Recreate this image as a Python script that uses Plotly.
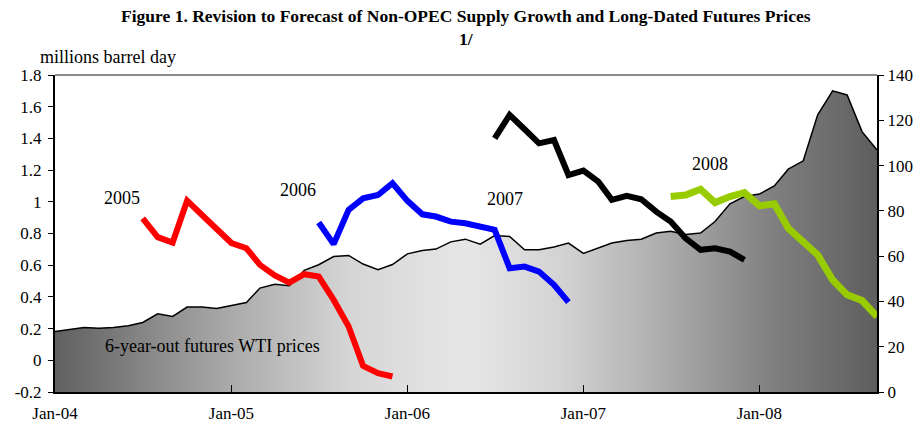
import pandas as pd
import plotly.graph_objects as go

months = pd.date_range("2004-01-01", "2008-09-01", freq="MS")

# 6-year-out futures WTI prices (right axis, $/bbl), Jan-04 .. Sep-08
wti = [26.7, 27.8, 28.5, 28.1, 28.5, 29.3, 30.7, 34.5, 33.4, 37.5, 37.5, 36.9,
       38.2, 39.5, 45.9, 47.6, 46.9, 53.7, 56.2, 59.8, 60.3, 56.5, 54.0, 56.3,
       61.0, 62.5, 63.1, 66.3, 67.5, 65.3, 69.1, 68.7, 62.8, 62.8, 64.0, 65.8,
       61.2, 63.5, 65.8, 66.9, 67.5, 70.2, 71.0, 69.6, 70.2, 75.3, 83.1, 86.3,
       87.4, 91.0, 98.4, 102.1, 122.4, 133.0, 131.2, 115.0, 106.9]

# Forecast vintages of non-OPEC supply growth (left axis, mb/d)
f2005 = [0.896, 0.777, 0.743, 1.007, 0.917, 0.827, 0.74, 0.707, 0.602, 0.535,
         0.49, 0.543, 0.528, 0.381, 0.213, -0.035, -0.081, -0.102]      # Jul-04 .. Dec-05
f2006 = [0.869, 0.733, 0.949, 1.022, 1.043, 1.117, 1.006, 0.921, 0.907, 0.875,
         0.865, 0.844, 0.823, 0.581, 0.591, 0.56, 0.476, 0.367]         # Jul-05 .. Dec-06
f2007 = [1.40, 1.548, 1.458, 1.369, 1.39, 1.169, 1.197, 1.127, 1.012, 1.037,
         1.016, 0.938, 0.875, 0.77, 0.697, 0.707, 0.686, 0.634]         # Jul-06 .. Dec-07
f2008 = [1.033, 1.043, 1.079, 0.995, 1.033, 1.058, 0.974, 0.987, 0.833, 0.749,
         0.665, 0.507, 0.413, 0.377, 0.276]                             # Jul-07 .. Sep-08

left_ticks = [-0.2, 0, 0.2, 0.4, 0.6, 0.8, 1, 1.2, 1.4, 1.6, 1.8]
left_text = ["-0.2", "0", "0.2", "0.4", "0.6", "0.8", "1", "1.2", "1.4", "1.6", "1.8"]
x_ticks = ["2004-01-01", "2005-01-01", "2006-01-01", "2007-01-01", "2008-01-01"]
x_text = ["Jan-04", "Jan-05", "Jan-06", "Jan-07", "Jan-08"]

FONT = "Liberation Serif, Times New Roman, serif"

fig = go.Figure()
# area on the base axis (drawn underneath), right side
fig.add_trace(go.Scatter(
    x=months, y=wti, yaxis="y", mode="lines",
    line=dict(color="black", width=1.5),
    fill="tozeroy",
    fillgradient=dict(type="horizontal", colorscale=[
        [0.0, "#606060"], [0.2, "#a6a6a6"], [0.36, "#d6d6d6"], [0.5, "#e6e6e6"],
        [0.62, "#d2d2d2"], [0.76, "#a6a6a6"], [0.88, "#7e7e7e"], [1.0, "#5e5e5e"]]),
    showlegend=False, hoverinfo="skip"))

series = [(f2005, 6, "#ff0000", 6), (f2006, 18, "#0000ff", 6),
          (f2007, 30, "#000000", 6), (f2008, 42, "#99cc00", 7)]
for vals, start, col, w in series:
    fig.add_trace(go.Scatter(
        x=months[start:start + len(vals)], y=vals, yaxis="y2", mode="lines",
        line=dict(color=col, width=w), showlegend=False))

ann = [("2005", "2004-05-19", 1.024), ("2006", "2005-05-19", 1.075),
       ("2007", "2006-07-23", 1.018), ("2008", "2007-09-20", 1.239),
       ("6-year-out futures WTI prices", "2004-11-22", 0.091)]
for t, xx, yy in ann:
    fig.add_annotation(x=xx, y=yy, xref="x", yref="y2", text=t, showarrow=False,
                       font=dict(family=FONT, size=18, color="black"))

fig.add_annotation(xref="paper", yref="paper", x=0.5, y=1, yshift=59, yanchor="middle",
                   text="<b>Figure 1. Revision to Forecast of Non-OPEC Supply Growth and Long-Dated Futures Prices</b>",
                   showarrow=False, font=dict(family=FONT, size=17.5, color="black"))
fig.add_annotation(xref="paper", yref="paper", x=0.5, y=1, yshift=36, yanchor="middle",
                   text="<b>1/</b>", showarrow=False, font=dict(family=FONT, size=17.5, color="black"))
fig.add_annotation(xref="paper", yref="paper", x=0, xshift=-17, xanchor="left", y=1, yshift=18,
                   yanchor="middle", text="millions barrel day", showarrow=False,
                   font=dict(family=FONT, size=18, color="black"))
fig.add_shape(type="line", xref="paper", yref="paper", x0=0, x1=1, y0=1, y1=1,
              line=dict(color="#8c8c8c", width=2))

fig.update_layout(
    width=922, height=430,
    margin=dict(l=55, r=45, t=75, b=38, autoexpand=False),
    paper_bgcolor="white", plot_bgcolor="white",
    font=dict(family=FONT, size=17, color="black"),
    xaxis=dict(range=["2004-01-01", "2008-09-01"], tickvals=x_ticks, ticktext=x_text,
               ticks="inside", ticklen=7, tickcolor="black", showgrid=False,
               showline=True, linecolor="black", linewidth=2, zeroline=False,
               ticklabelstandoff=5),
    yaxis=dict(range=[0, 140], dtick=20, side="right",
               ticks="outside", ticklen=5, tickcolor="black", showgrid=False,
               showline=True, linecolor="black", linewidth=2, zeroline=False),
    yaxis2=dict(range=[-0.2, 1.8], tickvals=left_ticks, ticktext=left_text,
                overlaying="y", side="left", ticklabelstandoff=3,
                ticks="outside", ticklen=5, tickcolor="black", showgrid=False,
                showline=True, linecolor="black", linewidth=2, zeroline=False),
)

fig.write_html("out.html", config={"displayModeBar": False},
               post_script="document.body.style.margin='0';")
